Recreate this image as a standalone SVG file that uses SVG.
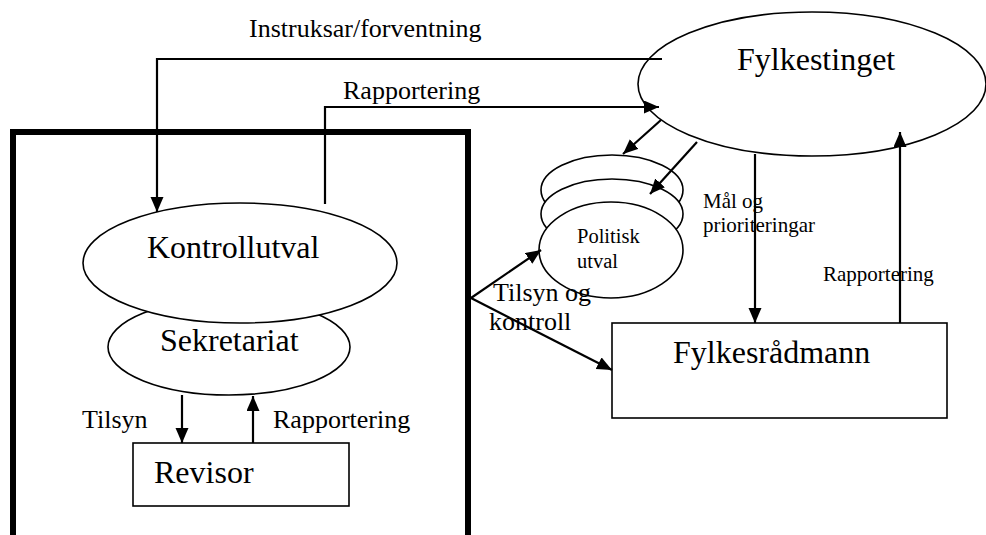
<svg xmlns="http://www.w3.org/2000/svg" width="986" height="535" viewBox="0 0 986 535">
<defs>
<marker id="ah" markerUnits="userSpaceOnUse" markerWidth="16" markerHeight="14" refX="15" refY="6.5" orient="auto">
<path d="M0,0 L15,6.5 L0,13 z" fill="#000"/>
</marker>
</defs>
<style>
.shape{fill:#fff;stroke:#000;stroke-width:1.6}
.conn{fill:none;stroke:#000;stroke-width:2.2}
.arr{marker-end:url(#ah)}
text{font-family:"Liberation Serif","Times New Roman",serif;fill:#000}
.big{font-size:32px}
.mid{font-size:26px}
.sm{font-size:21px}
</style>
<rect width="986" height="535" fill="#fff"/>
<g id="boundary">
<path d="M13,545 L13,132 L468,132 L468,545" fill="none" stroke="#000" stroke-width="6"/>
</g>
<g id="fylkestinget">
<ellipse class="shape" cx="812" cy="84" rx="174" ry="72"/>
<text class="big" x="737" y="70">Fylkestinget</text>
</g>
<g id="sekretariat">
<ellipse class="shape" cx="229" cy="347" rx="121" ry="48"/>
<text class="big" x="160" y="351">Sekretariat</text>
</g>
<g id="kontrollutval">
<ellipse class="shape" cx="240" cy="263" rx="157" ry="60"/>
<text class="big" x="147" y="258">Kontrollutval</text>
</g>
<g id="revisor">
<rect class="shape" x="133" y="443" width="216" height="63"/>
<text class="big" x="154" y="483">Revisor</text>
</g>
<g id="politisk-utval">
<ellipse class="shape" cx="612" cy="190" rx="71" ry="35"/>
<ellipse class="shape" cx="612" cy="214" rx="71" ry="35"/>
<ellipse class="shape" cx="611" cy="250" rx="72" ry="48"/>
<text x="577" y="243" style="font-size:20.5px">Politisk</text>
<text x="577" y="268" style="font-size:20.5px">utval</text>
</g>
<g id="fylkesradmann">
<rect class="shape" x="612" y="323" width="335" height="95"/>
<text class="big" x="673" y="363">Fylkesrådmann</text>
</g>
<g id="connectors">
<path class="conn arr" d="M662,59 L157,59 L157,212"/>
<path class="conn arr" d="M325,204 L325,107 L659,107"/>
<path class="conn arr" d="M661,120 L623,154"/>
<path class="conn arr" d="M697,142 L650,194"/>
<path class="conn arr" d="M755,154 L755,323"/>
<path class="conn arr" d="M900,323 L900,132"/>
<path class="conn arr" d="M471,298 L541,250"/>
<path class="conn arr" d="M471,298 L612,370"/>
<path class="conn arr" d="M182,395 L182,443"/>
<path class="conn arr" d="M253,443 L253,396"/>
</g>
<g id="labels">
<text class="mid" x="249" y="37">Instruksar/forventning</text>
<text class="mid" x="343" y="99">Rapportering</text>
<text class="mid" x="82" y="428">Tilsyn</text>
<text class="mid" x="273" y="428">Rapportering</text>
<text class="mid" x="493" y="301">Tilsyn og</text>
<text class="mid" x="489" y="330">kontroll</text>
<text class="sm" x="703" y="208">Mål og</text>
<text class="sm" x="703" y="232">prioriteringar</text>
<text class="sm" x="823" y="281">Rapportering</text>
</g>
</svg>
